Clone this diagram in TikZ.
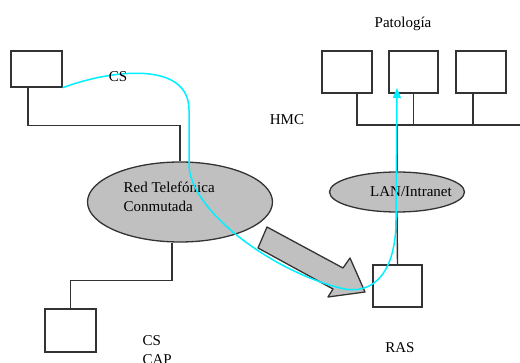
\documentclass[tikz,border=0pt]{standalone}
\usepackage{fontspec}
\setmainfont{Liberation Serif}
\usetikzlibrary{shapes.geometric,arrows.meta}
\definecolor{wire}{HTML}{333333}
\definecolor{cloud}{HTML}{C0C0C0}
\definecolor{link}{HTML}{00F0FF}
\begin{document}
\begin{tikzpicture}[x=1pt,y=-1pt,line width=1.3pt,
  every node/.style={font=\fontsize{15}{19}\selectfont},
  host/.style={draw=wire,fill=white,inner sep=0pt,line width=1.4pt},
  net/.style={ellipse,draw=wire,fill=cloud,inner sep=0pt,line width=1.3pt},
  wireline/.style={draw=wire,line width=1.4pt},
  caption/.style={inner sep=0pt,anchor=base}]
\useasboundingbox (0,0) rectangle (520,363);

% hosts
\node[host,minimum width=51pt,minimum height=36pt] (cs)  at (36.5,69) {};
\node[host,minimum width=51pt,minimum height=43pt] (cap) at (70.5,330.5) {};
\node[host,minimum width=50pt,minimum height=42pt] (p1)  at (347,72) {};
\node[host,minimum width=49pt,minimum height=42pt] (p2)  at (413.5,72) {};
\node[host,minimum width=50pt,minimum height=42pt] (p3)  at (481,72) {};
\node[host,minimum width=49pt,minimum height=42pt] (ras) at (397.5,286) {};

% networks
\node[net,minimum width=185pt,minimum height=80pt] (rtc) at (180,202) {};
\node[net,minimum width=135pt,minimum height=40pt] (lan) at (397,192) {};
\node[caption,anchor=base west,align=left] (rtctext) at (123,212)
  {Red Telefónica\\Conmutada};
\node[caption] (lantext) at (411,197) {LAN/Intranet};

% wiring
\coordinate (busend) at (520,125);
\draw[wireline] ([xshift=-8.5pt]cs.south) -- ++(0,38) -| (rtc.north);
\draw[wireline] ([xshift=-8pt]rtc.south) -- ++(0,38) -| (cap.north);
\draw[wireline] ([xshift=10pt]p1.south) |- (busend);
\draw[wireline] (p2.south) -- (p2.south |- busend);
\draw[wireline] ([xshift=-8pt]p3.south) -- ([xshift=-8pt]p3.south |- busend);
\draw[wireline] (lan.north) -- (lan.north |- busend);
\draw[wireline] (lan.south) -- (ras.north);

% wide arrow towards the access server
\draw[draw=wire,fill=cloud,line width=1.3pt,line join=round]
  (267,227) -- (343,268) -- (350,258) -- (365,292) -- (328,297)
  -- (333,289) -- (258,248) -- cycle;

% dial-up route
\coordinate (hit) at (397,88);
\draw[link,line width=1.5pt,-{Triangle[length=10pt,width=8pt]}]
  (cs.south east) .. controls (110,70) and (189,60) .. (189,110)
  -- (189,165) .. controls (190,210) and (270,270) .. (340,288)
  .. controls (375,297) and (396,270) .. (396,220) -- (hit);

% labels
\node[caption] (lpat) at (403,28) {Patología};
\node[caption] (lhmc) at (287,125) {HMC};
\node[caption] (lcs1) at (118,82) {CS};
\node[caption,anchor=base west] (lcs2) at (142,346) {CS};
\node[caption,anchor=base west] (lcap) at (142,365) {CAP};
\node[caption] (lras) at (400,353) {RAS};
\end{tikzpicture}
\end{document}
